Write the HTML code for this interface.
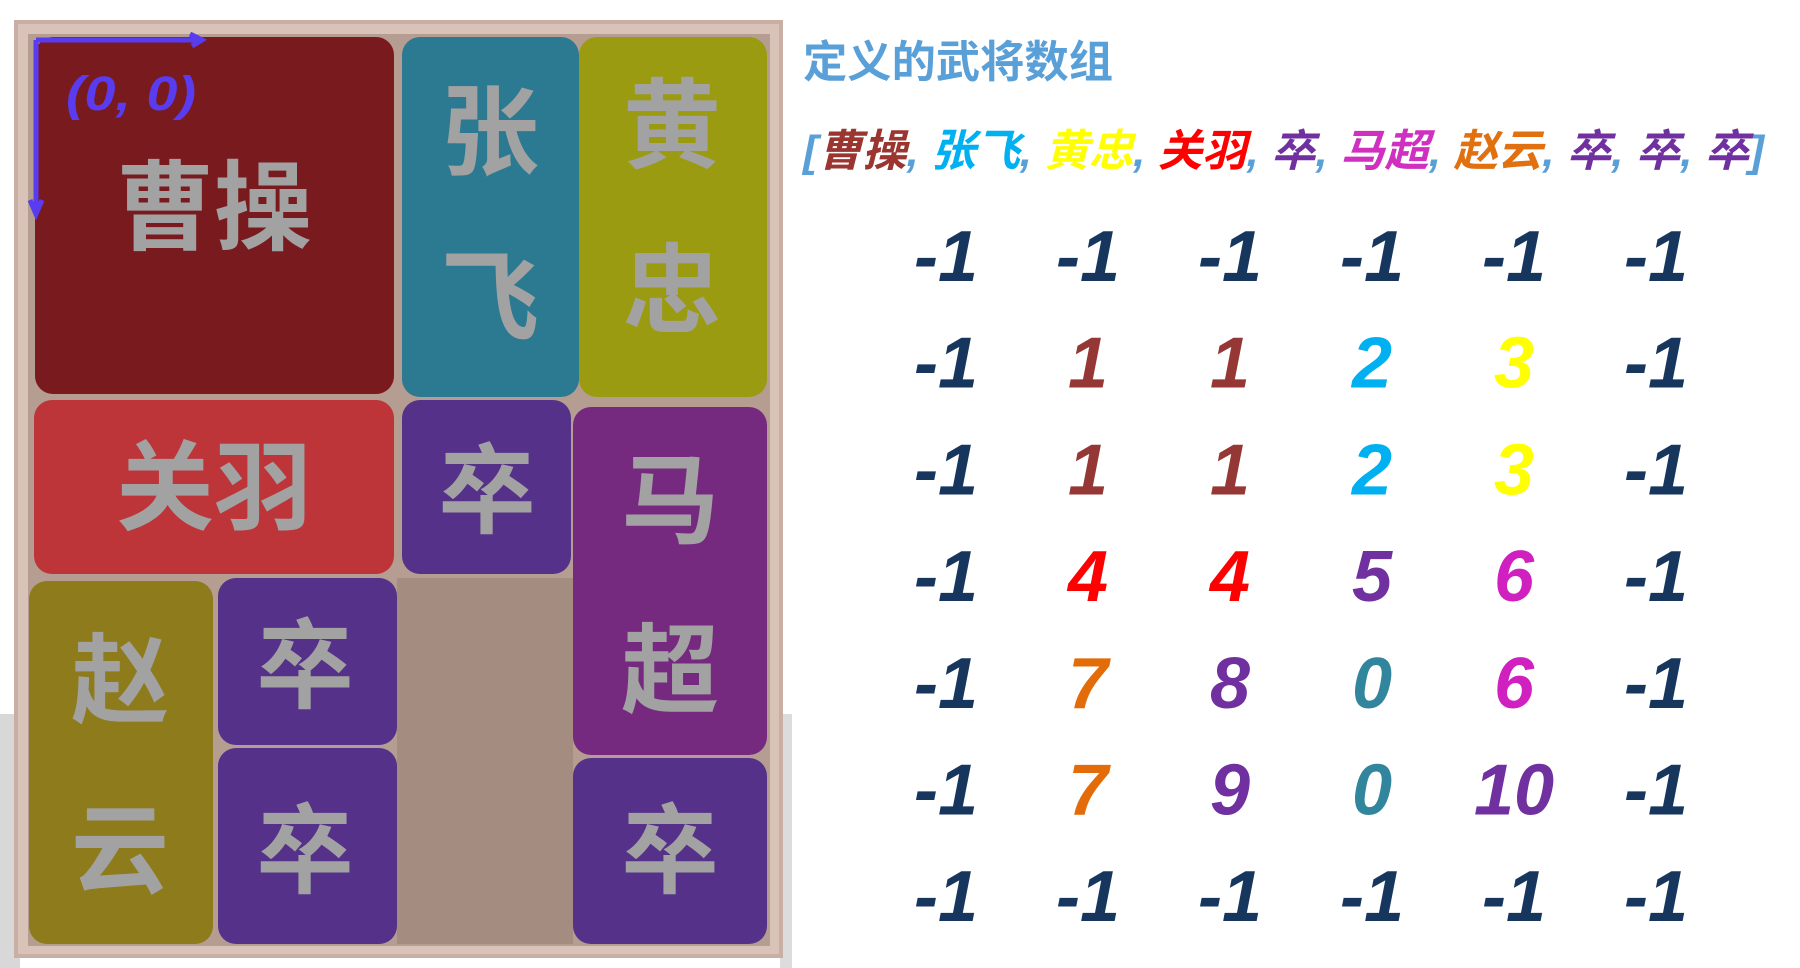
<!DOCTYPE html>
<html><head><meta charset="utf-8"><style>
html,body{margin:0;padding:0;background:#fff;}
svg{display:block;}
.cn{font-family:"Liberation Sans","Noto Sans CJK SC",sans-serif;font-weight:bold;}
</style></head><body>
<svg id="s" width="1800" height="968" viewBox="0 0 1800 968" xmlns="http://www.w3.org/2000/svg">
  <rect x="0" y="714" width="20" height="254" fill="#d8d8d8"/>
  <rect x="780" y="714" width="12" height="254" fill="#dcdcdc"/>
  <rect x="16" y="22" width="765" height="934" fill="#d9c2b8" stroke="#c9aea3" stroke-width="4"/>
  <rect x="28" y="34" width="742" height="912" fill="#b59d92"/>
  <g id="blocks"></g>
  <g stroke="#5a3cf0" stroke-width="5" fill="none">
    <path d="M36 40 H202 M190 34 L202 40 L192 46"/>
    <path d="M36 40 V214 M30 200 L36 214 L42 200"/>
  </g>
  <text x="66" y="110" font-family="Liberation Sans,sans-serif" font-weight="bold" font-style="italic" font-size="48" fill="#5a3cf0" textLength="130" lengthAdjust="spacingAndGlyphs">(0, 0)</text>
  <text class="cn" x="803" y="77" font-size="44" fill="#5aa0d8" textLength="310" lengthAdjust="spacingAndGlyphs">定义的武将数组</text>
  <text id="arr" class="cn" x="803" y="166" font-size="44" font-style="italic" textLength="961" lengthAdjust="spacingAndGlyphs"></text>
  <g id="grid"></g>
</svg>
<script>
const names = ["曹操","张飞","黄忠","关羽","卒","马超","赵云","卒","卒","卒"];
const nameColors = ["#9a3530","#00b0f0","#ffff00","#ff0000","#7030a0","#d030c0","#e07010","#7030a0","#7030a0","#7030a0"];
const gridRows = [
 [-1,-1,-1,-1,-1,-1],
 [-1,1,1,2,3,-1],
 [-1,1,1,2,3,-1],
 [-1,4,4,5,6,-1],
 [-1,7,8,0,6,-1],
 [-1,7,9,0,10,-1],
 [-1,-1,-1,-1,-1,-1]
];
const numColor = {"-1":"#17365d","0":"#31859c","1":"#953735","2":"#00b0f0","3":"#ffff00","4":"#ff0000","5":"#7030a0","6":"#d020c0","7":"#e36c09","8":"#7030a0","9":"#7030a0","10":"#7030a0"};
const NS="http://www.w3.org/2000/svg";
const arr=document.getElementById('arr');
function tsp(t,c){const e=document.createElementNS(NS,'tspan');e.textContent=t;e.setAttribute('fill',c);arr.appendChild(e);}
tsp('[','#5aa0d8');
names.forEach((n,i)=>{tsp(n,nameColors[i]);tsp(i<names.length-1?', ':']','#5aa0d8');});
const g=document.getElementById('grid');
const colX=c=>946+c*142, rowY=r=>255+r*106.7;
gridRows.forEach((row,r)=>row.forEach((v,c)=>{
  const t=document.createElementNS(NS,'text');
  
  
  t.setAttribute('x',colX(c));t.setAttribute('y',rowY(r)+26);
  t.setAttribute('text-anchor','middle');
  t.setAttribute('font-family','Liberation Sans Narrow, Liberation Sans, sans-serif');
  t.setAttribute('font-weight','bold');t.setAttribute('font-style','italic');
  t.setAttribute('font-size','72');t.setAttribute('fill',numColor[String(v)]);
  t.textContent=String(v);g.appendChild(t);
}));
const blocks=[
 {n:"cao-cao",x:35,y:37,w:359,h:357,c:"#781a1e",t:[["曹操",214,242]]},
 {n:"zhang-fei",x:402,y:37,w:177,h:360,c:"#2b7a92",t:[["张",490,167],["飞",490,332]]},
 {n:"huang-zhong",x:579,y:37,w:188,h:360,c:"#9b9b12",t:[["黄",672,160],["忠",672,325]]},
 {n:"guan-yu",x:34,y:400,w:360,h:174,c:"#bd3439",t:[["关羽",214,522]]},
 {n:"soldier-1",x:402,y:400,w:169,h:174,c:"#553189",t:[["卒",487,525]]},
 {n:"ma-chao",x:573,y:407,w:194,h:348,c:"#752a80",t:[["马",670,535],["超",670,705]]},
 {n:"zhao-yun",x:29,y:581,w:184,h:363,c:"#8e7b1c",t:[["赵",120,715],["云",120,885]]},
 {n:"soldier-2",x:218,y:578,w:179,h:167,c:"#553189",t:[["卒",305,700]]},
 {n:"soldier-3",x:218,y:748,w:179,h:196,c:"#553189",t:[["卒",305,885]]},
 {n:"empty-space",x:397,y:578,w:176,h:366,c:"#a48c80",t:[]},
 {n:"soldier-4",x:573,y:758,w:194,h:186,c:"#553189",t:[["卒",670,885]]}
];
const bg=document.getElementById('blocks');
blocks.forEach(b=>{
  const r=document.createElementNS(NS,'rect');
  
  
  r.setAttribute('x',b.x);r.setAttribute('y',b.y);r.setAttribute('width',b.w);r.setAttribute('height',b.h);
  r.setAttribute('rx',b.n==='empty-space'?0:18);r.setAttribute('fill',b.c);bg.appendChild(r);
  b.t.forEach(tt=>{
    const t=document.createElementNS(NS,'text');
    
    
    t.setAttribute('x',tt[1]);t.setAttribute('y',tt[2]);t.setAttribute('text-anchor','middle');
    t.setAttribute('class','cn');t.setAttribute('font-size','98');t.setAttribute('fill','#a2a2a2');
    t.textContent=tt[0];bg.appendChild(t);
  });
});
</script>
</body></html>
